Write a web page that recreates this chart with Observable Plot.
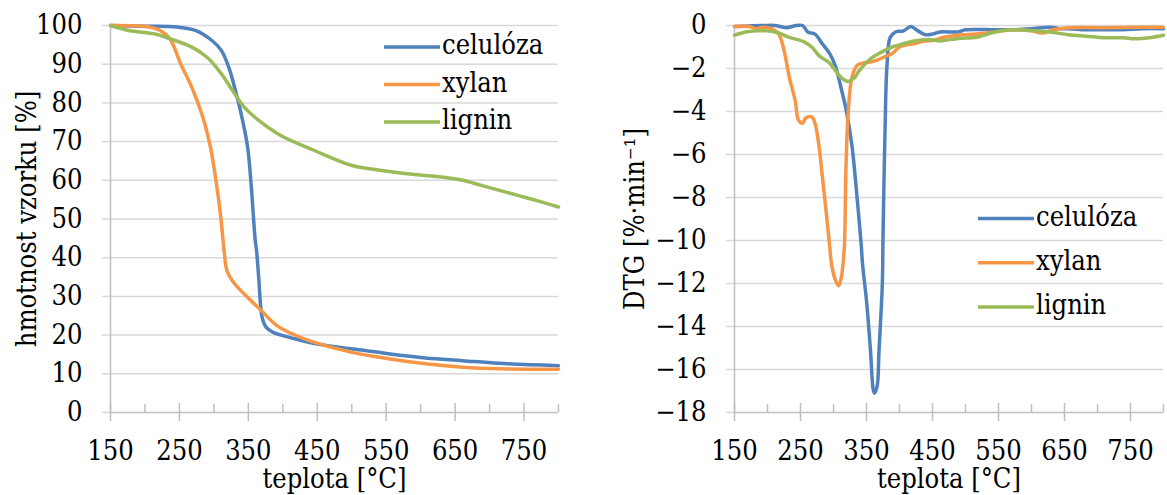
<!DOCTYPE html>
<html>
<head>
<meta charset="utf-8">
<script src="https://cdn.jsdelivr.net/npm/d3@7"></script>
<script src="https://cdn.jsdelivr.net/npm/@observablehq/plot@0.6"></script>
<style>
  html, body { margin: 0; padding: 0; background: #fff; }
  #wrap { position: relative; width: 1167px; height: 495px; overflow: hidden; background: #fff; }
  #left, #right { position: absolute; top: 0; }
  #left { left: 0; }
  #right { left: 583px; }
  #legend { position: absolute; left: 0; top: 0; pointer-events: none; }
</style>
</head>
<body>
<div id="wrap">
  <div id="left"></div>
  <div id="right"></div>
  <svg id="legend" width="1167" height="495"></svg>
</div>
<script>
// ---------- data ----------
const seriesNames = ["celulóza", "xylan", "lignin"];
const seriesColors = ["#4F81BD", "#F79646", "#9BBB59"];

const xMajorTicks = [150, 250, 350, 450, 550, 650, 750];
const xMinorTicks = [200, 300, 400, 500, 600, 700, 800];
const tgTicks = [0, 10, 20, 30, 40, 50, 60, 70, 80, 90, 100];
const dtgTicks = [-18, -16, -14, -12, -10, -8, -6, -4, -2, 0];

const xLabel = "teplota [°C]";
const tgLabel = "hmotnost vzorku [%]";
const dtgLabel = "DTG [%·min⁻¹]";

// TG curves: [temperature °C, mass %]
const tgCeluloza = [
  [150,100],[200,99.8],[247,99.6],[274,98.7],[298,96],[311,93.5],[322,89],[333,82],
  [341,76],[349,68.5],[354,59],[360,44.5],[362,41.7],[365,35],[370,24.6],[376,22],
  [386,20.7],[408,19.5],[446,17.8],[499,16.5],[553,15.2],[607,14.1],[661,13.4],
  [714,12.7],[800,12.1]
];
const tgXylan = [
  [150,100],[204,99.7],[220,98.9],[236,96.6],[252,90],[268,84],[284,76.3],[295,68.6],
  [303,60],[310,50.5],[315,41.5],[319,36.6],[327,34],[344,30.6],[365,27],[392,22.4],
  [419,19.9],[446,18.1],[499,15.6],[553,13.9],[607,12.6],[661,11.7],[714,11.3],[800,11.2]
];
const tgLignin = [
  [150,100],[177,98.7],[215,97.8],[236,96.6],[268,94.4],[290,91.8],[311,87.5],[327,83.2],
  [344,78.9],[365,75.5],[397,71.6],[446,67.7],[499,63.9],[526,63],[580,61.7],[634,60.8],
  [661,60],[688,58.7],[741,56.1],[768,54.8],[800,53.1]
];

// DTG curves: [temperature °C, %/min]
const dtgCeluloza = [
  [150,-0.05],[194,0],[211,0],[228,-0.1],[244,0],[253,0],[261,-0.3],[272,-0.4],[283,-0.85],
  [294,-1.3],[303,-1.9],[311,-2.85],[319,-3.9],[328,-5.6],[336,-8.1],[342,-10.2],[344,-11.1],
  [350,-12.8],[356,-15.1],[360,-16.9],[362,-17.1],[366,-16.8],[369,-15.1],[374,-12],[375,-9.9],
  [378,-5],[381,-1.9],[386,-0.55],[394,-0.3],[406,-0.25],[417,-0.05],[428,-0.25],[439,-0.43],
  [450,-0.4],[461,-0.3],[489,-0.3],[500,-0.2],[544,-0.2],[572,-0.2],[600,-0.15],[628,-0.08],
  [644,-0.15],[656,-0.15],[683,-0.2],[711,-0.2],[739,-0.2],[767,-0.15],[800,-0.15]
];
const dtgXylan = [
  [150,-0.05],[172,-0.05],[183,-0.15],[194,-0.08],[206,-0.15],[217,-0.4],[225,-1.15],[233,-2.4],
  [242,-3.5],[247,-4.4],[253,-4.55],[258,-4.3],[267,-4.25],[272,-4.55],[278,-5.6],[283,-7],
  [289,-8.7],[294,-10.2],[297,-11.1],[303,-11.85],[308,-12.1],[312,-11.7],[316,-10.5],[317,-9.9],
  [319,-6.5],[322,-4.2],[328,-2.4],[336,-1.85],[344,-1.75],[356,-1.7],[367,-1.6],[378,-1.45],
  [389,-1.3],[400,-1.0],[411,-0.9],[422,-0.85],[433,-0.75],[450,-0.7],[467,-0.55],[489,-0.45],
  [517,-0.4],[544,-0.3],[572,-0.2],[600,-0.25],[617,-0.35],[633,-0.2],[656,-0.1],[711,-0.1],
  [767,-0.08],[800,-0.08]
];
const dtgLignin = [
  [150,-0.45],[167,-0.3],[183,-0.25],[200,-0.25],[217,-0.35],[233,-0.55],[256,-0.77],[267,-1.0],
  [278,-1.4],[294,-1.75],[311,-2.4],[322,-2.6],[331,-2.45],[339,-2.1],[356,-1.55],[372,-1.25],
  [389,-1.0],[406,-0.85],[422,-0.72],[444,-0.65],[461,-0.72],[489,-0.6],[517,-0.55],[544,-0.3],
  [572,-0.2],[600,-0.23],[628,-0.3],[656,-0.43],[683,-0.5],[711,-0.57],[739,-0.57],[756,-0.62],
  [778,-0.57],[800,-0.45]
];

// ---------- font: the only serif available is DejaVu Serif; size it to the reference text widths ----------
const FONT = "'DejaVu Serif Condensed', 'DejaVu Serif', serif";
const FSTRETCH = "condensed";
function measure(str) {
  const c = document.createElement("canvas").getContext("2d");
  c.font = `${FSTRETCH} 100px ${FONT}`;
  return c.measureText(str).width / 100;
}
const fitA = 46 / measure("100");
const fitB = 250 / measure(tgLabel);
const fitC = 105 / measure("celulóza");
const FS = Math.max(22, Math.min(30, (fitA + fitB + fitC) / 3));

const GRID = "#D9D9D9";
const AXIS = "#BFBFBF";
const fmt = d3.format("d");

function panel({width, marginLeft, marginRight, yDomain, yTicks, yLabel, yLabelOffset, series}) {
  const yMin = yDomain[0];
  const marks = [
    Plot.gridY(yTicks.filter(d => d !== yMin), {stroke: GRID, strokeOpacity: 1, strokeWidth: 1.5}),
    Plot.axisY({ticks: yTicks, tickSize: 8, tickPadding: 20, stroke: GRID, strokeOpacity: 1, strokeWidth: 1.5,
                fill: "#000", fontSize: FS, label: null, tickFormat: fmt}),
    Plot.axisX({ticks: xMajorTicks, tickSize: 0, tickPadding: 26 - 0.71 * FS + 21, fill: "#000", fontSize: FS,
                label: null, tickFormat: fmt}),
    Plot.ruleY([yMin], {stroke: AXIS, strokeWidth: 1.5}),
    Plot.ruleX([150], {stroke: AXIS, strokeWidth: 1.5}),
    Plot.ruleX(xMajorTicks, {x: d => d, y1: yMin, y2: yMin, insetTop: -9, insetBottom: -9, stroke: AXIS, strokeWidth: 1.5}),
    Plot.ruleX(xMinorTicks, {x: d => d, y1: yMin, y2: yMin, insetTop: -8, insetBottom: 0, stroke: AXIS, strokeWidth: 1.5}),
    Plot.text([xLabel], {frameAnchor: "bottom", dy: 75 - 0.32 * FS, fontSize: FS, fill: "#000", lineAnchor: "middle", textAnchor: "middle"}),
    Plot.text([yLabel], {frameAnchor: "left", dx: -(yLabelOffset + 0.32 * FS), rotate: -90, fontSize: FS, fill: "#000", lineAnchor: "middle", textAnchor: "middle"})
  ];
  series.forEach((s, i) => {
    marks.push(Plot.line(s, {x: d => d[0], y: d => d[1], stroke: seriesColors[i], strokeWidth: 3.5,
      curve: "catmull-rom", strokeLinejoin: "round", strokeLinecap: "round"}));
  });
  return Plot.plot({
    width, height: 495,
    marginTop: 25, marginBottom: 83, marginLeft, marginRight,
    x: {domain: [150, 800]},
    y: {domain: yDomain},
    style: {fontFamily: FONT, fontStretch: FSTRETCH, fontSize: FS + "px", background: "#fff", overflow: "visible", color: "#000"},
    marks
  });
}

// yLabelOffset = distance from the plot's left edge to the label's baseline
document.getElementById("left").appendChild(panel({
  width: 583, marginLeft: 110, marginRight: 25,
  yDomain: [0, 100], yTicks: tgTicks, yLabel: tgLabel, yLabelOffset: 75,
  series: [tgCeluloza, tgXylan, tgLignin]
}));
document.getElementById("right").appendChild(panel({
  width: 584, marginLeft: 151, marginRight: 4,
  yDomain: [-18, 0], yTicks: dtgTicks, yLabel: dtgLabel, yLabelOffset: 91,
  series: [dtgCeluloza, dtgXylan, dtgLignin]
}));

// legends
const legend = d3.select("#legend");
function drawLegend(x0, y0, step) {
  seriesNames.forEach((name, i) => {
    const y = y0 + i * step;
    legend.append("line").attr("x1", x0).attr("x2", x0 + 56).attr("y1", y).attr("y2", y)
      .attr("stroke", seriesColors[i]).attr("stroke-width", 3.5);
    legend.append("text").attr("x", x0 + 58).attr("y", y + 0.26 * FS)
      .style("font-family", FONT).style("font-stretch", FSTRETCH)
      .attr("font-size", FS).attr("fill", "#000").text(name);
  });
}
drawLegend(384, 47, 37.5);
drawLegend(978, 218.5, 44.3);
</script>
</body>
</html>
